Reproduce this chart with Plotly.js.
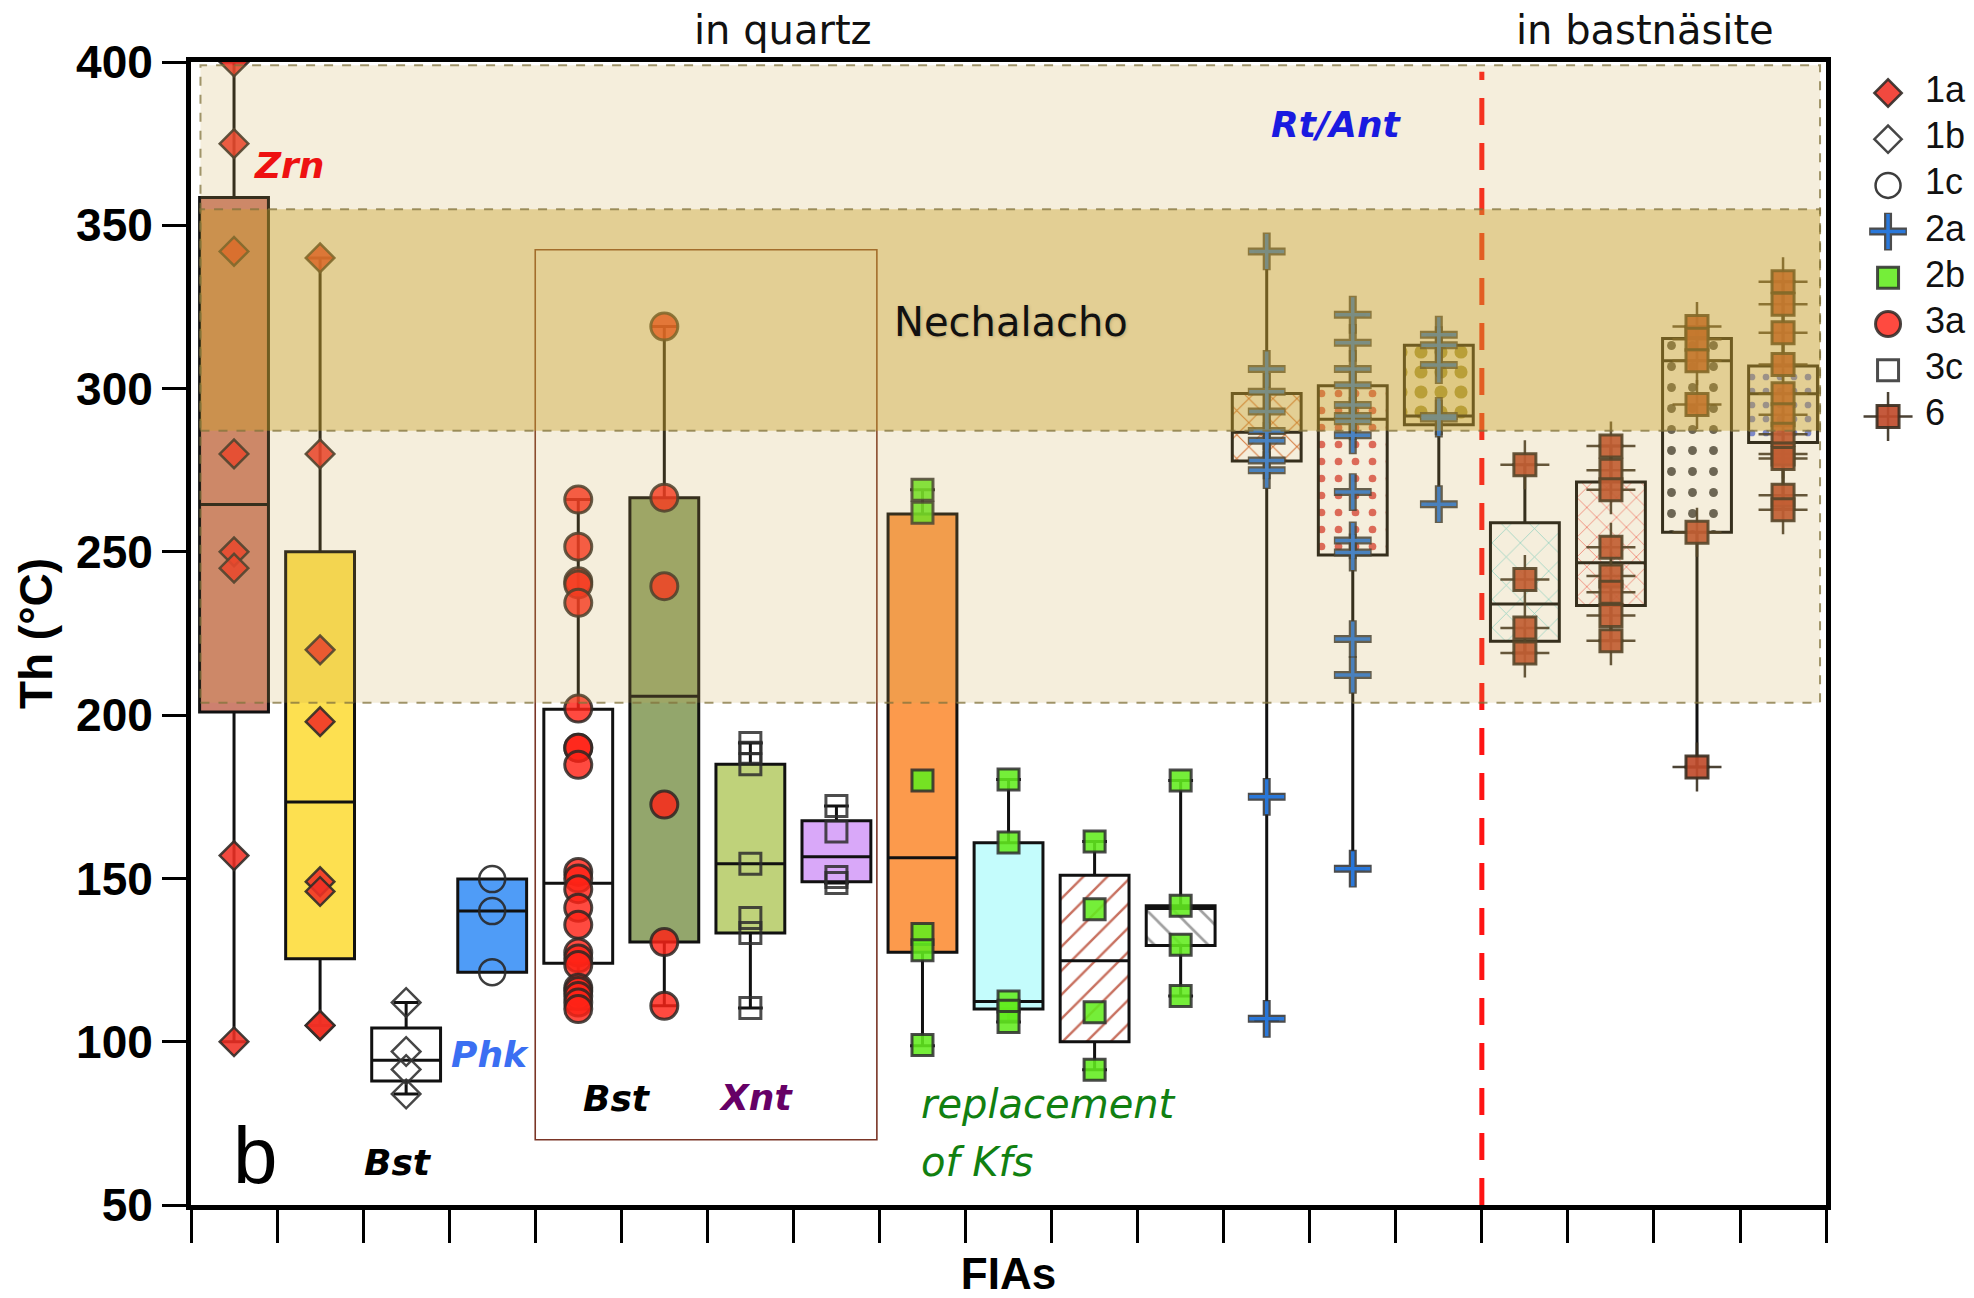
<!DOCTYPE html>
<html>
<head>
<meta charset="utf-8">
<script src="https://cdn.plot.ly/plotly-3.0.1.min.js"></script>
<style>
  html, body { margin: 0; padding: 0; background: #ffffff; }
  #chart { width: 1974px; height: 1298px; }
</style>
</head>
<body>
<div id="chart"></div>
<script>
// ---- Homogenisation temperatures (Th, °C) per fluid-inclusion assemblage ----
const fiaPositions = [1, 2, 3, 4, 5, 6, 7, 8, 9, 10, 11, 12, 13, 14, 15, 16, 17, 18, 19];
const fiaType = ['1a', '1a', '1b', '1c', '3a', '3a', '3c', '3c', '2b', '2b', '2b', '2b',
                 '2a', '2a', '2a', '6', '6', '6', '6'];

// box statistics
const boxQ1     = [201, 125.4, 88, 121.3, 124, 130.5, 133.3, 149, 127.4, 110, 100, 129.5, 277.8, 249, 288.9, 222.6, 233.6, 256, 283.5];
const boxMedian = [264.5, 173.4, 94.3, 140, 148.5, 205.8, 154.5, 156.6, 156.3, 112.3, 124.8, 140.8, 286.6, 290.6, 291.6, 234, 246.7, 308.5, 298.4];
const boxQ3     = [358.5, 250, 104.2, 149.8, 201.8, 266.6, 185, 167.7, 261.6, 160.9, 151, 141.6, 298.5, 300.9, 313.3, 258.9, 271.4, 315.3, 306.9];
const boxLow    = [100, 105, 84, 121.3, 110, 111, 110.3, 148.6, 98.8, 106, 91.4, 114, 106.7, 153, 264.6, 219, 222.8, 184.1, 263];
const boxHigh   = [400, 340, 112, 149.8, 266, 319, 191.5, 172.2, 269, 180.3, 161.3, 180, 341.9, 322.6, 316.5, 276.7, 282.4, 319, 332.7];

// individual inclusions
const thFia1  = [400, 375, 342, 280, 250, 245, 157, 100];
const thFia2  = [340, 280, 220, 198, 149, 146, 105, 105];
const thFia3  = [112, 97, 91.5, 84];
const thFia4  = [149.8, 140, 121.3];
const thFia5  = [266, 251.6, 241, 240, 234.4, 202, 190, 190, 184.8, 152, 150, 146.7, 141, 135.8, 127.3, 125.5, 123.5, 116.5, 115.5, 114, 112, 110];
const thFia6  = [319, 266.6, 239.5, 172.6, 130.5, 111];
const thFia7  = [191.5, 188.5, 185, 154.5, 137.9, 133.3, 110.3];
const thFia8  = [172.2, 164.4, 150.4, 148.6];
const thFia9  = [269, 262, 180, 133, 128, 99];
const thFia10 = [180.3, 161, 112.3, 109.5, 106];
const thFia11 = [161.3, 140.6, 109, 91.4];
const thFia12 = [180, 141.6, 129.7, 114];
const thFia13 = [342, 306, 299, 293, 287, 284, 278, 275, 175, 107];
const thFia14 = [322.6, 314, 306, 301, 295, 291.6, 290, 285.7, 268.3, 253.5, 249.8, 223.3, 212.3, 153];
const thFia15 = [316.5, 313.3, 307.2, 291.6, 290.8, 264.6];
const thFia16 = [276.7, 241.5, 226.7, 219];
const thFia17 = [282.4, 275, 269, 251.4, 242.6, 237.6, 230.5, 222.8];
const thFia18 = [319, 315.1, 308.5, 295.1, 256, 184.1];
const thFia19 = [332.7, 325.8, 317.1, 307.4, 298.4, 292, 286, 280, 278.6, 267.3, 262.9];

const thByFia = [thFia1, thFia2, thFia3, thFia4, thFia5, thFia6, thFia7, thFia8, thFia9, thFia10,
                 thFia11, thFia12, thFia13, thFia14, thFia15, thFia16, thFia17, thFia18, thFia19];

// Nechalacho deposit reference ranges (°C)
const nechalachoWide = [203.8, 399];
const nechalachoCore = [287.1, 354.9];
const xTickVals = [0.5, 1.5, 2.5, 3.5, 4.5, 5.5, 6.5, 7.5, 8.5, 9.5, 10.5, 11.5, 12.5, 13.5, 14.5, 15.5, 16.5, 17.5, 18.5, 19.5];
const legendTypes = ['1a', '1b', '1c', '2a', '2b', '3a', '3c', '6'];

// ---- box body appearance ----
const bodyColor = ['#cd806f', '#fde050', '#ffffff', '#4f9cf7', '#ffffff', '#93a66c', '#bfd27a', '#d9a8f9',
                   '#fc9a4c', '#c4fcfc', '#ffffff', '#ffffff', '#ffffff', '#ffffff', '#f8f3dc',
                   '#ffffff', '#ffffff', '#ffffff', '#ffffff'];
const bodyPattern = ['', '', '', '', '', '', '', '', '', '', '/', '\\', 'x', '.', '.', 'x', 'x', '.', '.'];
const bodyPatternFg = ['#000', '#000', '#000', '#000', '#000', '#000', '#000', '#000', '#000', '#000',
                       '#c8705f', '#a0a0a0', '#d86c38', '#e05a5a', '#a89c40', '#7fdcdc', '#f43c3c', '#555555', '#6a80e6'];
const bodyPatternSize = [8, 8, 8, 8, 8, 8, 8, 8, 8, 8, 17, 19, 17, 17, 20, 20, 14, 21, 14];
const bodyPatternSolid = [0.2, 0.2, 0.2, 0.2, 0.2, 0.2, 0.2, 0.2, 0.2, 0.2, 0.14, 0.14, 0.12, 0.16, 0.34, 0.07, 0.08, 0.14, 0.18];

const traces = [];

// box bodies: one floating bar per assemblage, so each can carry its own hatch
fiaPositions.forEach((pos, i) => {
  const marker = { color: bodyColor[i], line: { width: 0 } };
  if (bodyPattern[i]) {
    marker.pattern = {
      shape: bodyPattern[i],
      fgcolor: bodyPatternFg[i],
      fgopacity: 1,
      size: bodyPatternSize[i],
      solidity: bodyPatternSolid[i],
      fillmode: 'overlay'
    };
  }
  traces.push({
    type: 'bar',
    x: [pos],
    base: [boxQ1[i]],
    y: [boxQ3[i] - boxQ1[i]],
    width: 0.8,
    marker: marker,
    hoverinfo: 'skip',
    showlegend: false
  });
});

// outlines, medians and whiskers
traces.push({
  type: 'box',
  x: fiaPositions,
  q1: boxQ1,
  median: boxMedian,
  q3: boxQ3,
  lowerfence: boxLow,
  upperfence: boxHigh,
  width: 0.8,
  whiskerwidth: 0.36,
  fillcolor: 'rgba(0,0,0,0)',
  line: { color: '#111111', width: 3 },
  boxpoints: false,
  hoverinfo: 'skip',
  showlegend: false
});

// marker style for each inclusion type (may be several layers)
const typeLayers = {
  '1a': [{ symbol: 'diamond', size: 22, color: 'rgba(240,48,36,0.88)', line: { color: 'rgba(50,44,40,0.9)', width: 2.5 } }],
  '1b': [{ symbol: 'diamond-open', size: 22, color: 'rgba(50,50,50,0.9)', line: { width: 2.5 } }],
  '1c': [{ symbol: 'circle-open', size: 26, color: 'rgba(40,40,40,0.9)', line: { width: 2.5 } }],
  '2a': [{ symbol: 'cross-thin-open', size: 27, color: 'rgba(45,45,45,0.85)', line: { width: 8 } },
         { symbol: 'cross-thin-open', size: 25, color: 'rgba(40,122,226,0.95)', line: { width: 3.5 } }],
  '2b': [{ symbol: 'square', size: 21, color: 'rgba(98,236,30,0.88)', line: { color: 'rgba(45,45,45,0.85)', width: 3 } }],
  '3a': [{ symbol: 'circle', size: 27, color: 'rgba(255,34,22,0.82)', line: { color: 'rgba(45,40,36,0.85)', width: 3 } }],
  '3c': [{ symbol: 'square-open', size: 21, color: 'rgba(45,45,45,0.85)', line: { width: 3 } }],
  '6':  [{ symbol: 'cross-thin-open', size: 35, color: 'rgba(55,45,30,0.9)', line: { width: 2.5 } },
         { symbol: 'square', size: 22, color: 'rgba(192,76,44,0.92)', line: { color: 'rgba(58,46,32,0.9)', width: 3 } }]
};

// inclusion markers, grouped by type
legendTypes.forEach(type => {
  const xs = [], ys = [];
  thByFia.forEach((vals, i) => {
    if (fiaType[i] !== type) return;
    vals.forEach(v => { xs.push(fiaPositions[i]); ys.push(v); });
  });
  typeLayers[type].forEach(layer => {
    traces.push({
      type: 'scatter', mode: 'markers', x: xs, y: ys,
      marker: Object.assign({}, layer),
      hoverinfo: 'y', showlegend: false
    });
  });
});

// key on the right-hand side
legendTypes.forEach((type, i) => {
  typeLayers[type].forEach(layer => {
    const m = Object.assign({}, layer);
    if (type === '1a' || type === '1b') m.size = 21;
    if (type === '1c' || type === '3a') m.size = 25;
    traces.push({
      type: 'scatter', mode: 'markers', x: [28], y: [i],
      xaxis: 'x2', yaxis: 'y2', marker: m, hoverinfo: 'skip', showlegend: false
    });
  });
});
traces.push({
  type: 'scatter', mode: 'text',
  x: legendTypes.map(() => 65), y: legendTypes.map((t, i) => i),
  text: legendTypes, textposition: 'middle right',
  textfont: { family: 'Liberation Sans, Arial, sans-serif', size: 36, color: '#111' },
  xaxis: 'x2', yaxis: 'y2', hoverinfo: 'skip', showlegend: false
});

const verdana = 'DejaVu Sans, Verdana, sans-serif';
const helv = 'Liberation Sans, Arial, Helvetica, sans-serif';

function label(text, x, y, color, opts) {
  return Object.assign({
    text: text, x: x, y: y, xref: 'x', yref: 'y', showarrow: false,
    font: { family: verdana, size: 36, color: color, weight: 'bold', style: 'italic' }
  }, opts || {});
}

const annotations = [
  { text: 'in quartz', x: 7.38, y: 1.05, xref: 'x', yref: 'paper', showarrow: false,
    font: { family: verdana, size: 40, color: '#111' } },
  { text: 'in bastnäsite', x: 17.39, y: 1.05, xref: 'x', yref: 'paper', showarrow: false,
    font: { family: verdana, size: 40, color: '#111' } },
  { text: 'Nechalacho', x: 10.03, y: 320.4, xref: 'x', yref: 'y', showarrow: false,
    font: { family: verdana, size: 40, color: '#111', shadow: '1px 1px 3px rgba(120,100,60,0.35)' } },
  label('Zrn', 1.64, 368.2, '#ee1111'),
  label('Phk', 3.97, 96.0, '#3b6ff2'),
  label('Bst', 2.90, 62.9, '#000000'),
  label('Bst', 5.45, 82.5, '#000000'),
  label('Xnt', 7.07, 82.9, '#660066'),
  label('Rt/Ant', 13.81, 380.9, '#1a1ae0'),
  { text: 'replacement', x: 8.96, y: 81.0, xref: 'x', yref: 'y', xanchor: 'left', showarrow: false,
    font: { family: verdana, size: 40, color: '#118011', style: 'italic' } },
  { text: 'of Kfs', x: 8.96, y: 63.3, xref: 'x', yref: 'y', xanchor: 'left', showarrow: false,
    font: { family: verdana, size: 40, color: '#118011', style: 'italic' } },
  { text: 'b', x: 1.25, y: 65.2, xref: 'x', yref: 'y', showarrow: false,
    font: { family: helv, size: 80, color: '#000' } }
];

const shapes = [
  // frame around the Bst / Xnt assemblages
  { type: 'rect', xref: 'x', yref: 'y', x0: 4.5, x1: 8.47, y0: 70, y1: 342.5,
    line: { color: '#7a3526', width: 1.6 }, fillcolor: 'rgba(0,0,0,0)', layer: 'above' },
  // quartz | bastnäsite divider
  { type: 'line', xref: 'x', yref: 'y', x0: 15.5, x1: 15.5, y0: 50, y1: 397,
    line: { color: '#ff1414', width: 5, dash: '27px,18px' }, layer: 'above' },
  // Nechalacho ranges
  { type: 'rect', xref: 'x', yref: 'y', x0: 0.61, x1: 19.43, y0: nechalachoWide[0], y1: nechalachoWide[1],
    fillcolor: 'rgba(205,170,80,0.2)', line: { color: 'rgba(130,115,60,0.75)', width: 2, dash: 'dash' }, layer: 'above' },
  { type: 'rect', xref: 'x', yref: 'y', x0: 0.61, x1: 19.43, y0: nechalachoCore[0], y1: nechalachoCore[1],
    fillcolor: 'rgba(200,160,40,0.4)', line: { color: 'rgba(130,115,60,0.75)', width: 2, dash: 'dash' }, layer: 'above' }
];

const layout = {
  width: 1974, height: 1298,
  margin: { l: 191, r: 4, t: 62, b: 93 },
  paper_bgcolor: '#ffffff', plot_bgcolor: '#ffffff',
  showlegend: false,
  barmode: 'overlay',
  xaxis: {
    domain: [0, 0.9191], range: [0.5, 19.5],
    tickvals: xTickVals, showticklabels: false,
    ticks: 'outside', ticklen: 33, tickwidth: 3, tickcolor: '#000',
    showline: true, linewidth: 5, linecolor: '#000', mirror: true,
    showgrid: false, zeroline: false,
    title: { text: 'FIAs', standoff: 24, font: { family: helv, size: 44, color: '#000', weight: 'bold' } }
  },
  yaxis: {
    range: [50, 400], tickvals: [50, 100, 150, 200, 250, 300, 350, 400],
    ticks: 'outside', ticklen: 24, tickwidth: 3, tickcolor: '#000',
    tickfont: { family: helv, size: 46, color: '#000', weight: 'bold' },
    showline: true, linewidth: 5, linecolor: '#000', mirror: true,
    showgrid: false, zeroline: false,
    title: { text: 'Th (°C)', standoff: 10, font: { family: helv, size: 46, color: '#000', weight: 'bold' } }
  },
  xaxis2: { domain: [0.9382, 1], range: [0, 110], visible: false, fixedrange: true },
  yaxis2: { domain: [0, 1], range: [24.07, -0.671], anchor: 'x2', visible: false, fixedrange: true },
  annotations: annotations,
  shapes: shapes
};

Plotly.newPlot('chart', traces, layout, { displayModeBar: false, staticPlot: true });
</script>
</body>
</html>
